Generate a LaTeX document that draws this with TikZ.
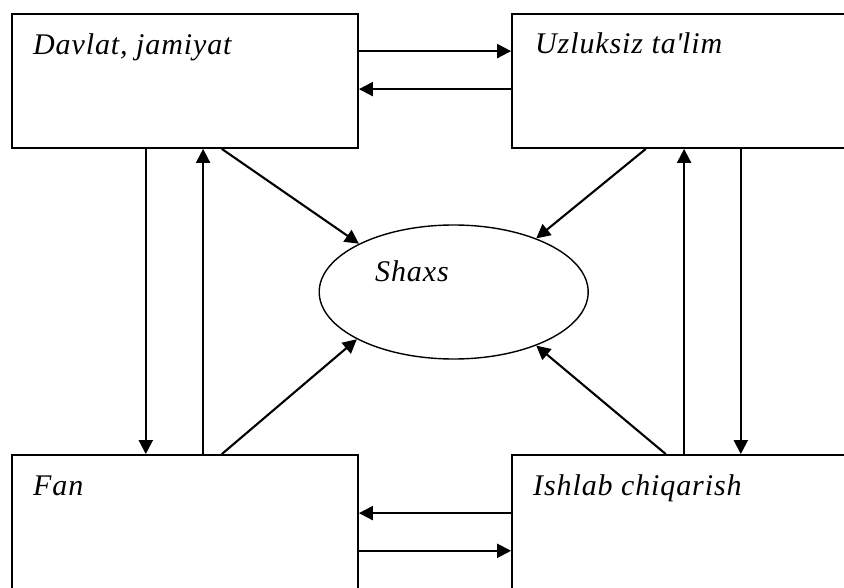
\documentclass[tikz,border=0pt]{standalone}
\usepackage{fontspec}
\setmainfont{Liberation Serif}
\newfontfamily\lblfont{Liberation Serif}[LetterSpace=3]
\newcommand{\straightq}{\XeTeXglyph\XeTeXcharglyph"0027\relax}
\usetikzlibrary{arrows.meta,shapes.geometric}
\begin{document}
\begin{tikzpicture}[x=1pt,y=-1pt,
  boxnode/.style={draw,line width=1.8pt,rectangle,minimum width=346pt,minimum height=134pt,inner sep=0pt},
  bigbox/.style={draw,line width=1.8pt,rectangle,minimum width=346pt,minimum height=150pt,inner sep=0pt},
  lbl/.style={anchor=base west,inner sep=0pt,font=\lblfont\fontsize{30}{35}\selectfont\itshape},
  arr/.style={line width=2.1pt,-{Triangle[length=14pt,width=14pt]}}]
\useasboundingbox (0,0) rectangle (844,588);
\clip (0,0) rectangle (844,588);
\node[boxnode] (tl) at (185,81) {};
\node[boxnode] (tr) at (685,81) {};
\node[bigbox] (bl) at (185,530) {};
\node[bigbox] (br) at (685,530) {};
\node[draw,line width=1.4pt,ellipse,minimum width=269pt,minimum height=134pt,inner sep=0pt] (el) at (453.7,292) {};
\node[lbl] (t1) at (33,55) {Davlat, jamiyat};
\node[lbl] (t2) at (535,54) {Uzluksiz ta\straightq lim};
\node[lbl] (t3) at (33,495) {Fan};
\node[lbl] (t4) at (533,495) {Ishlab chiqarish};
\node[lbl] (t5) at (375,282) {Shaxs};
% horizontal top
\draw[arr] ([yshift=-38pt]tl.north east) -- ([yshift=-38pt]tr.north west);
\draw[arr] ([yshift=-76pt]tr.north west) -- ([yshift=-76pt]tl.north east);
% horizontal bottom
\draw[arr] ([yshift=-59pt]br.north west) -- ([yshift=-59pt]bl.north east);
\draw[arr] ([yshift=-96.7pt]bl.north east) -- ([yshift=-96.7pt]br.north west);
% left verticals
\draw[arr] ([xshift=134.7pt]tl.south west) -- ([xshift=134.7pt]bl.north west);
\draw[arr] ([xshift=192pt]bl.north west) -- ([xshift=192pt]tl.south west);
% right verticals
\draw[arr] ([xshift=173pt]br.north west) -- ([xshift=173pt]tr.south west);
\draw[arr] ([xshift=229.7pt]tr.south west) -- ([xshift=229.7pt]br.north west);
% diagonals
\draw[arr] ([xshift=210.7pt]tl.south west) -- (el.153.2);
\draw[arr] ([xshift=134.7pt]tr.south west) -- (el.33);
\draw[arr] ([xshift=210.7pt]bl.north west) -- (el.206.7);
\draw[arr] ([xshift=154.7pt]br.north west) -- (el.327);
\end{tikzpicture}
\end{document}
